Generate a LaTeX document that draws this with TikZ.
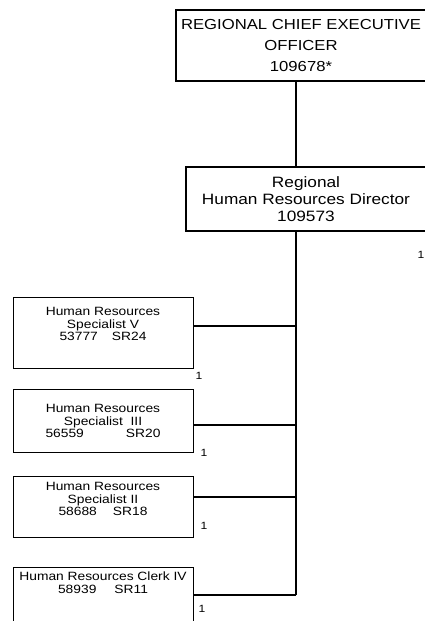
\documentclass[tikz,border=0pt]{standalone}
\usepackage{fontspec}
\setmainfont{Liberation Sans}[FakeStretch=1.15]
\usetikzlibrary{positioning}

\begin{document}
\begin{tikzpicture}[
x=1pt, y=-1pt,
every node/.style={inner sep=0pt},
topbox/.style={rectangle, draw, line width=1.1pt, align=center, font=\fontsize{14.5}{21}\selectfont},
midbox/.style={rectangle, draw, line width=1.1pt, align=center, font=\fontsize{15}{17}\selectfont},
posbox/.style={rectangle, draw, line width=1pt, minimum width=180pt, align=center, font=\fontsize{12}{12.5}\selectfont},
count/.style={font=\fontsize{10.5}{10.5}\selectfont},
trunk/.style={line width=2pt},
line/.style={line width=1.5pt}
]
\useasboundingbox (0,0) rectangle (424,621);

% Nodes
\node[topbox, minimum width=250pt, minimum height=71pt] (ceo) at (301,45.5)
  {REGIONAL CHIEF EXECUTIVE\\OFFICER\\109678*};
\node[midbox, minimum width=240pt, minimum height=64pt] (hrd) at (306,199)
  {Regional\\Human Resources Director\\109573};
\node[posbox, minimum height=71pt] (spv) at (103,332.5)
  {Human Resources\\Specialist V\\53777\hspace{14pt}SR24\\[4pt]};
\node[posbox, minimum height=63pt] (spiii) at (103,421)
  {Human Resources\\Specialist\ \ III\\56559\hspace{42pt}SR20};
\node[posbox, minimum height=61pt] (spii) at (103,506.5)
  {Human Resources\\Specialist II\\58688\hspace{16pt}SR18\\[2pt]};
\node[posbox, minimum height=57pt, anchor=north] (clerk) at (103,567)
  {Human Resources Clerk IV\\58939\hspace{18pt}SR11\\[14pt]};

% Trunk points
\coordinate (t1) at (296,326);
\coordinate (t2) at (296,425);
\coordinate (t3) at (296,497);
\coordinate (t4) at (296,595);

% Counts
\node[count] (nhrd) at (421,255) {1};
\node[count, anchor=north west] (nspv) at (spv.south east) [xshift=2pt, yshift=-4pt] {1};
\node[count, anchor=west] (nspiii) at (spiii.south east) [xshift=7pt] {1};
\node[count, anchor=west] (nspii) at (spii.south east) [xshift=7pt, yshift=12pt] {1};
\node[count, anchor=west] (nclerk) at (clerk.east |- t4) [xshift=5pt, yshift=-14pt] {1};

% Connections
\draw[trunk] (ceo.south -| t1) -- (hrd.north -| t1);
\draw[trunk] (hrd.south -| t1) -- (t4);
\draw[line] (t1) -- (spv.east |- t1);
\draw[line] (t2) -- (spiii.east |- t2);
\draw[line] (t3) -- (spii.east |- t3);
\draw[line] (t4) -- (clerk.east |- t4);

\end{tikzpicture}
\end{document}
